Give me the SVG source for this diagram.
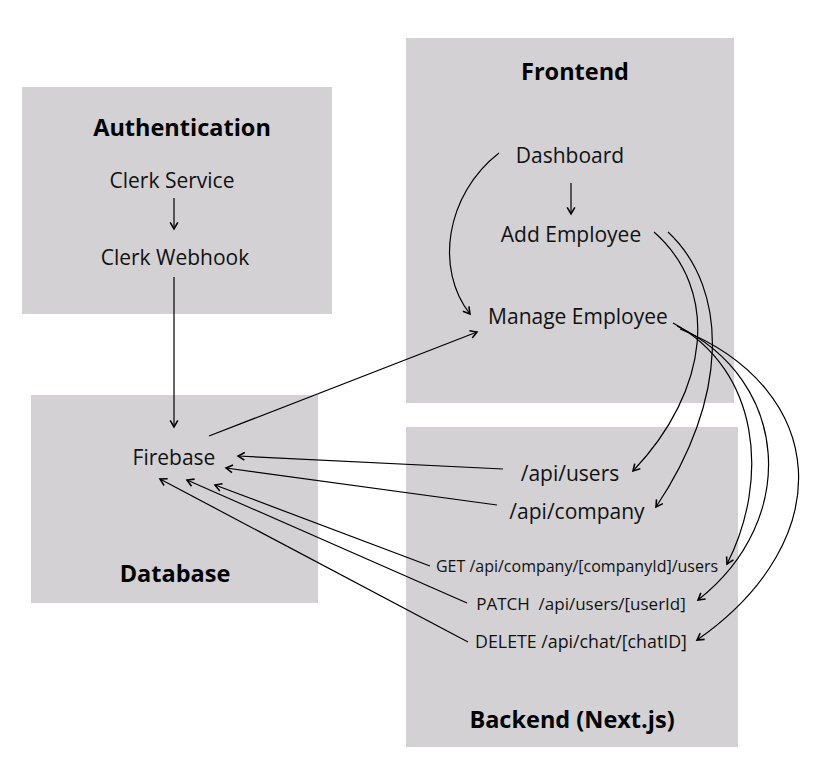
<svg xmlns="http://www.w3.org/2000/svg" width="822" height="767" viewBox="0 0 822 767">
<style>
.box{fill:#d3d1d4}
.title{font-family:"Open Sans",sans-serif;font-weight:bold;font-size:23.5px;fill:#000;text-anchor:middle}
.lbl{font-family:"Open Sans",sans-serif;font-size:21px;fill:#111;text-anchor:middle}
.sm{font-family:"Open Sans",sans-serif;font-size:16px;fill:#111;text-anchor:middle}
.c{fill:none;stroke:#000;stroke-width:1.2;marker-end:url(#ah)}
</style>
<defs>
<marker id="ah" markerUnits="userSpaceOnUse" markerWidth="12" markerHeight="12" viewBox="-7 -5 9 10" refX="0" refY="0" orient="auto">
<path d="M-5.5,-3.2 L0,0 L-5.5,3.2" fill="none" stroke="#000" stroke-width="1.3"/>
</marker>
</defs>
<rect width="822" height="767" fill="#fff"/>
<g id="authentication"><rect class="box" x="22" y="87" width="310" height="227"/><text class="title" x="182" y="136">Authentication</text></g>
<g id="frontend"><rect class="box" x="406" y="38" width="328" height="365"/><text class="title" x="575" y="80">Frontend</text></g>
<g id="database"><rect class="box" x="31" y="395" width="287" height="208"/><text class="title" x="175" y="582">Database</text></g>
<g id="backend"><rect class="box" x="406" y="427" width="332" height="320"/><text class="title" x="572" y="728">Backend (Next.js)</text></g>
<g id="clerk-service"><text class="lbl" x="172" y="188">Clerk Service</text></g>
<g id="clerk-webhook"><text class="lbl" x="175" y="265">Clerk Webhook</text></g>
<g id="dashboard"><text class="lbl" x="570" y="163">Dashboard</text></g>
<g id="add-employee"><text class="lbl" x="571" y="242">Add Employee</text></g>
<g id="manage-employee"><text class="lbl" x="578" y="324">Manage Employee</text></g>
<g id="firebase"><text class="lbl" x="174" y="465">Firebase</text></g>
<g id="api-users"><text class="lbl" x="570" y="481">/api/users</text></g>
<g id="api-company"><text class="lbl" x="577" y="519">/api/company</text></g>
<g id="get-users"><text class="sm" x="577" y="572">GET /api/company/[companyId]/users</text></g>
<g id="patch-user"><text class="sm" x="581" y="610" style="font-size:17px" xml:space="preserve">PATCH  /api/users/[userId]</text></g>
<g id="delete-chat"><text class="sm" x="581" y="648" style="font-size:17.8px">DELETE /api/chat/[chatID]</text></g>
<g id="connectors">
<path class="c" d="M174,198 L174,229"/>
<path class="c" d="M174,277 L174,427"/>
<path class="c" d="M209,436 L477,332"/>
<path class="c" d="M571,183 L571,214"/>
<path class="c" d="M499,153 C445,195 435,270 470,314"/>
<path class="c" d="M654,232 C720,290 710,390 633,471"/>
<path class="c" d="M668,232 C730,290 728,400 656,507"/>
<path class="c" d="M673,323 C760,370 770,480 727,564"/>
<path class="c" d="M677,326 C790,380 800,520 698,600"/>
<path class="c" d="M680,329 C830,390 840,540 697,640"/>
<path class="c" d="M503,469 L238,456"/>
<path class="c" d="M497,505 L226,468"/>
<path class="c" d="M430,566 L215,485"/>
<path class="c" d="M467,603 L187,480"/>
<path class="c" d="M468,642 L160,479"/>
</g>
</svg>
